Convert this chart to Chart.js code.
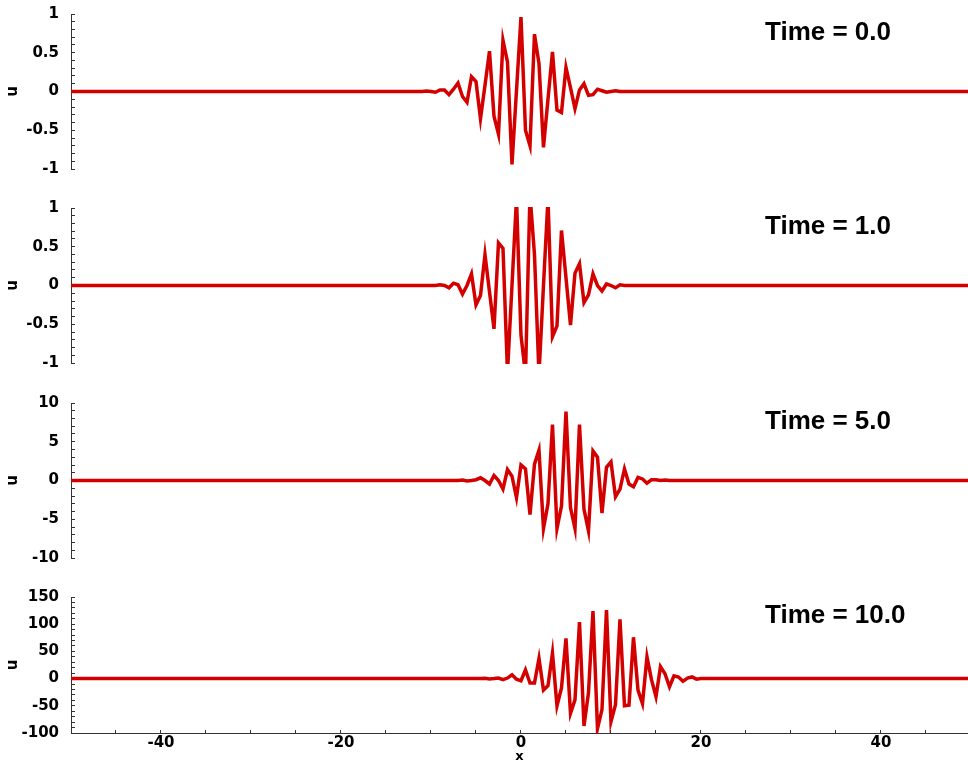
<!DOCTYPE html>
<html>
<head>
<meta charset="utf-8">
<script src="https://cdn.jsdelivr.net/npm/chart.js@4.4.0/dist/chart.umd.min.js"></script>
<style>
  html, body { margin: 0; padding: 0; background: #fff; }
  body { width: 968px; height: 762px; position: relative; overflow: hidden; }
  .panel { position: absolute; left: 0; width: 968px; }
</style>
</head>
<body>
<div class="panel" style="top:-12px;height:207px"><canvas id="p1"></canvas></div>
<div class="panel" style="top:182px;height:207px"><canvas id="p2"></canvas></div>
<div class="panel" style="top:377px;height:207px"><canvas id="p3"></canvas></div>
<div class="panel" style="top:571px;height:191px"><canvas id="p4"></canvas></div>
<script>
// x positions of the samples (flat zero outside the packet)
var xs = [-50,
  -12, -11.5, -11, -10.5, -10, -9.5, -9, -8.5, -8, -7.5,
  -7, -6.5, -6, -5.5, -5, -4.5, -4, -3.5, -3, -2.5,
  -2, -1.5, -1, -0.5, 0, 0.5, 1, 1.5, 2, 2.5,
  3, 3.5, 4, 4.5, 5, 5.5, 6, 6.5, 7, 7.5,
  8, 8.5, 9, 9.5, 10, 10.5, 11, 11.5, 12, 12.5,
  13, 13.5, 14, 14.5, 15, 15.5, 16, 16.5, 17, 17.5,
  18, 18.5, 19, 19.5, 20, 20.5, 21, 21.5, 22,
  50];

// u at Time = 0.0
var u0 = [0,
  0, 0, 0, 0.005, 0, -0.01, 0.02, 0.02, -0.04, 0.03,
  0.11, -0.065, -0.14, 0.19, 0.13, -0.35, 0.08, 0.52, -0.32, -0.55,
  0.66, 0.38, -0.94, 0.01, 0.96, -0.5, -0.7, 0.74, 0.36, -0.72,
  -0.1, 0.51, -0.24, -0.27, 0.31, 0.05, -0.22, 0.02, 0.1, -0.05,
  -0.04, 0.03, 0.01, -0.01, 0, 0.01, 0, 0, 0, 0,
  0, 0, 0, 0, 0, 0, 0, 0, 0, 0,
  0, 0, 0, 0, 0, 0, 0, 0, 0,
  0];

// u at Time = 1.0
var u1 = [0,
  0, 0, 0, 0, 0, 0, 0.01, 0, -0.03, 0.03,
  0.01, -0.11, 0, 0.15, -0.25, -0.13, 0.4, -0.08, -0.56, 0.55,
  0.48, -1.12, 0, 1.12, -0.64, -1.15, 1.18, 0.4, -1.15, 0,
  1.12, -0.66, -0.52, 0.71, 0.1, -0.51, 0.16, 0.28, -0.22, -0.12,
  0.15, 0, -0.07, 0.02, 0, -0.03, 0.01, 0, 0, 0,
  0, 0, 0, 0, 0, 0, 0, 0, 0, 0,
  0, 0, 0, 0, 0, 0, 0, 0, 0,
  0];

// u at Time = 5.0
var u5 = [0,
  0, 0, 0, 0, 0, 0, 0, 0, 0, 0,
  0, 0.05, -0.05, 0, 0.1, 0.35, 0, -0.45, 0.65, 0,
  -1.1, 1.4, 0.55, -2.2, 2.0, 1.5, -4.4, 2.1, 3.9, -6.2,
  -3, 7.2, -6.2, -3.3, 8.9, -3.5, -6.2, 7.2, -3.7, -6.5,
  3.8, 3.0, -4.2, 1.7, 2.4, -2.1, -1.1, 1.5, -0.45, -0.8,
  0.4, 0.2, -0.35, 0.1, 0.1, 0, 0.05, 0, 0, 0,
  0, 0, 0, 0, 0, 0, 0, 0, 0,
  0];

// u at Time = 10.0
var u10 = [0,
  0, 0, 0, 0, 0, 0, 0, 0, 0, 0,
  0, 0, 0, 0, 0, 0, 0.5, -0.5, 0, 1,
  -2, 1, 7, -1, -4, 16, -8, -8, 37, -21,
  -13, 47, -50, -17, 74, -64, -39, 104, -87, -26,
  124, -92, -57, 126, -79, -48, 109, -50, -49, 76,
  -21, -46, 40, -2, -33, 22, 9, -15, 5, 3,
  -5, 1, 3, -1, 0, 0, 0, 0, 0,
  0];

// tick labels
var xLabels = [-40, -20, 0, 20, 40];
var yLabels1 = [-1, -0.5, 0, 0.5, 1];
var yLabels5 = [-10, -5, 0, 5, 10];
var yLabels10 = [-100, -50, 0, 50, 100, 150];

var FONT = '"DejaVu Sans", sans-serif';

// draws the "Time = ..." text in the upper right of each panel
var timeLabel = {
  id: "timeLabel",
  afterDraw: function (chart, args, opts) {
    var ctx = chart.ctx;
    ctx.save();
    ctx.font = 'bold 26px "Liberation Sans", Arial, sans-serif';
    ctx.fillStyle = "#000";
    ctx.textBaseline = "middle";
    ctx.textAlign = "left";
    ctx.fillText(opts.text, 765, chart.chartArea.top + 19);
    ctx.restore();
  },
};

function stepTicks(min, max, step) {
  var t = [];
  var n = Math.round((max - min) / step);
  for (var k = 0; k <= n; k++) t.push({ value: min + k * step });
  return t;
}

function pickLabel(list) {
  return function (value) {
    for (var i = 0; i < list.length; i++) {
      if (Math.abs(list[i] - value) < 1e-6) return String(list[i]);
    }
    return "";
  };
}

function makePanel(id, vals, time, yMin, yMax, yMinor, yLabels, bottom) {
  var ctx = document.getElementById(id).getContext("2d");
  new Chart(ctx, {
    type: "line",
    data: {
      datasets: [
        {
          data: xs.map(function (x, i) { return { x: x, y: vals[i] }; }),
          borderColor: "#d40000",
          borderWidth: 3.5,
          pointRadius: 0,
          tension: 0,
          fill: false,
          clip: 1,
        },
      ],
    },
    options: {
      animation: false,
      responsive: true,
      maintainAspectRatio: false,
      layout: { padding: 0 },
      plugins: {
        legend: { display: false },
        tooltip: { enabled: false },
        timeLabel: { text: time },
      },
      scales: {
        x: {
          type: "linear",
          min: -50,
          max: 49.67,
          display: bottom,
          afterBuildTicks: function (s) { s.ticks = stepTicks(-50, 45, 5); },
          afterFit: function (s) { s.height = bottom ? 29 : 0; },
          ticks: {
            autoSkip: false,
            maxRotation: 0,
            padding: 4,
            color: "#000",
            font: { family: FONT, weight: "bold", size: 15 },
            callback: pickLabel(xLabels),
          },
          grid: {
            drawOnChartArea: false,
            drawTicks: true,
            tickLength: -3,
            tickColor: "#333",
          },
          border: { display: true, color: "#333", width: 1 },
          title: {
            display: true,
            text: "x",
            color: "#000",
            padding: { top: 0, bottom: 0 },
            font: { family: FONT, weight: "bold", size: 13, lineHeight: 0.8 },
          },
        },
        y: {
          min: yMin,
          max: yMax,
          afterBuildTicks: function (s) { s.ticks = stepTicks(yMin, yMax, yMinor); },
          afterFit: function (s) { s.width = 71; },
          ticks: {
            autoSkip: false,
            padding: 16,
            color: "#000",
            font: { family: FONT, weight: "bold", size: 15, lineHeight: "20px" },
            callback: pickLabel(yLabels),
          },
          grid: {
            drawOnChartArea: false,
            drawTicks: true,
            tickLength: -4,
            tickColor: "#333",
          },
          border: { display: true, color: "#333", width: 1 },
          title: {
            display: true,
            text: "u",
            color: "#000",
            padding: { top: 4, bottom: 0 },
            font: { family: FONT, weight: "bold", size: 15 },
          },
        },
      },
    },
    plugins: [timeLabel],
  });
}

document.addEventListener("DOMContentLoaded", function () {
  makePanel("p1", u0, "Time = 0.0", -1, 1, 0.1, yLabels1, false);
  makePanel("p2", u1, "Time = 1.0", -1, 1, 0.1, yLabels1, false);
  makePanel("p3", u5, "Time = 5.0", -10, 10, 1, yLabels5, false);
  makePanel("p4", u10, "Time = 10.0", -100, 150, 10, yLabels10, true);
});
</script>
</body>
</html>
